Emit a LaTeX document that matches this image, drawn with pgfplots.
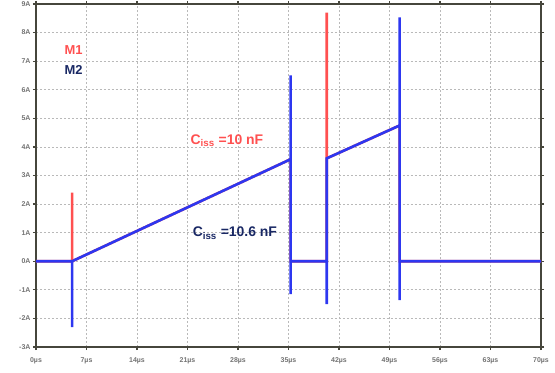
\documentclass[border=0pt]{standalone}
\usepackage{fontspec}
\setmainfont{Liberation Sans}
\usepackage{pgfplots}
\pgfplotsset{compat=1.18}
\definecolor{mred}{RGB}{255,80,80}
\definecolor{mblue}{RGB}{45,55,240}
\definecolor{navy}{RGB}{25,40,100}
\definecolor{frame}{RGB}{70,70,60}
\begin{document}
\begin{tikzpicture}
\begin{axis}[
  name=ax,
  scale only axis,
  width=505bp, height=343bp,
  xmin=0, xmax=70, ymin=-3, ymax=9,
  xtick={0,7,...,70}, ytick={-3,-2,...,9},
  xticklabel={\pgfmathprintnumber{\tick}µs},
  yticklabel={\pgfmathprintnumber{\tick}A},
  /pgf/number format/assume math mode=true,
  ticklabel style={font=\fontsize{7}{8}\selectfont\bfseries, text=black!55},
  xticklabel style={yshift=-4bp},
  yticklabel style={xshift=1bp},
  tick align=outside,
  major tick length=3bp,
  tick style={frame, line width=1.2pt},
  axis line style={frame, line width=2pt},
  grid=major,
  major grid style={gray!55, dash pattern=on 2pt off 2pt, line width=0.7pt},
  clip=true,
]
\addplot[mred, line width=2.6bp] coordinates {
 (0,0) (5,0) (5,2.4) (5,0) (35.3,3.57) (35.3,0) (40.3,0) (40.3,8.7) (40.3,3.6) (50.4,4.75) (50.4,0) (70,0)
};
\addplot[mblue, line width=2.6bp] coordinates {
 (0,0) (5,0) (5,-2.3) (5,0) (35.3,3.57) (35.3,6.5) (35.3,-1.15) (35.3,0) (40.3,0) (40.3,-1.5) (40.3,3.6) (50.4,4.75) (50.4,8.53) (50.4,-1.36) (50.4,0) (70,0)
};
\node[text=mred, font=\fontsize{13}{15}\selectfont\bfseries] at (axis cs:5.2,7.38) {M1};
\node[text=navy, font=\fontsize{13}{15}\selectfont\bfseries] at (axis cs:5.2,6.68) {M2};
\node[anchor=west, text=mred, font=\fontsize{14}{16}\selectfont\bfseries, inner sep=0pt] at (axis cs:21.4,4.23) {C\textsubscript{iss} =10 nF};
\node[anchor=west, text=navy, font=\fontsize{14}{16}\selectfont\bfseries, inner sep=0pt] at (axis cs:21.7,0.98) {C\textsubscript{iss} =10.6 nF};
\end{axis}
\pgfresetboundingbox
\path ([shift={(-36bp,-25bp)}]ax.south west) rectangle ([shift={(14bp,4bp)}]ax.north east);
\end{tikzpicture}
\end{document}
